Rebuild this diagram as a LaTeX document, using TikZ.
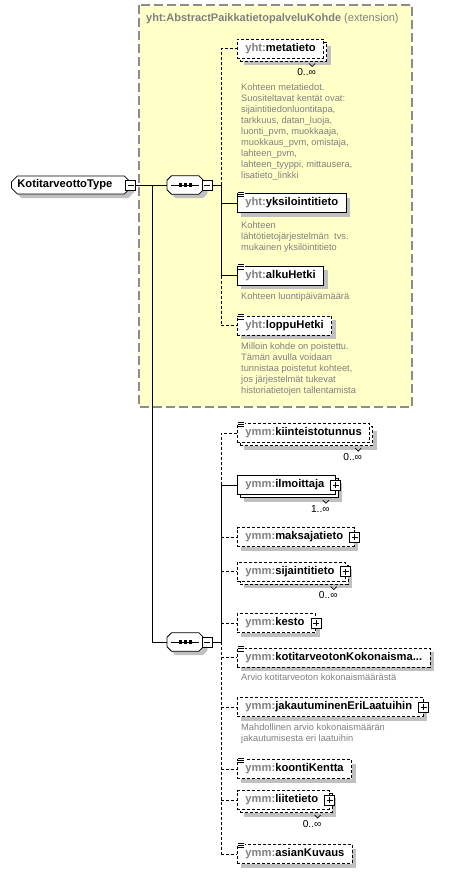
\documentclass[tikz,border=0pt]{standalone}
\usepackage{fontspec}
\setmainfont{Liberation Sans}
\usetikzlibrary{shapes.misc, shadows, calc}

\definecolor{extyellow}{HTML}{FFFFC8}
\definecolor{extborder}{HTML}{8C8C8C}
\definecolor{shadowgray}{HTML}{C0C0C0}
\definecolor{txtgray}{HTML}{808080}

\newcommand{\elfont}{\fontsize{11.2}{13}\selectfont\bfseries}
\newcommand{\smallfont}{\fontsize{9.3}{11}\selectfont}
\newcommand{\el}[2]{\textcolor{txtgray}{#1:}#2}
% little "documented" mark in the top left corner of an element
\newcommand{\docmark}[1]{%
  \fill[white] ($(#1.north west)+(0.6,-1.8)$) rectangle ($(#1.north west)+(7.5,4.6)$);
  \draw[line width=0.8pt] ($(#1.north west)+(1,-1)$) -- +(6,0)
    ($(#1.north west)+(1,1.2)$) -- +(6,0)
    ($(#1.north west)+(1,3.4)$) -- +(6,0);}
% small notch above a cardinality
\newcommand{\cardmark}[1]{%
  \draw[line width=0.7pt] ($(#1.north east)+(-7,-5)$) -- ++(3,3) -- ++(3,-3);}
% octagon of a sequence compositor
\newcommand{\octpath}[1]{($(#1.north west)+(0,4.5)$) -- ($(#1.north west)+(4.5,0)$)
  -- ($(#1.north east)+(-4.5,0)$) -- ($(#1.north east)+(0,4.5)$)
  -- ($(#1.south east)+(0,-4.5)$) -- ($(#1.south east)+(-4.5,0)$)
  -- ($(#1.south west)+(4.5,0)$) -- ($(#1.south west)+(0,-4.5)$) -- cycle}
\newcommand{\seqshape}[1]{%
  \fill[shadowgray, transform canvas={shift={(4pt,-4pt)}}] \octpath{#1};
  \filldraw[fill=white, line width=0.8pt] \octpath{#1};
  \draw[line width=0.8pt] ($(#1.west)+(4,0)$) -- ($(#1.east)+(-4,0)$);
  \foreach \dx in {-5,0,5}
    \fill ($(#1.center)+(\dx-1.6,-1.6)$) rectangle ++(3.2,3.2);}

\begin{document}
\begin{tikzpicture}[x=1pt, y=-1pt,
  conn/.style={line width=0.8pt},
  optconn/.style={conn, dash pattern=on 3pt off 2pt},
  elem/.style={draw, fill=white, line width=0.8pt, minimum height=19pt,
    inner xsep=8pt, inner ysep=0pt, anchor=west, font=\elfont},
  opt/.style={dash pattern=on 3pt off 2pt},
  one/.style={drop shadow={shadow xshift=4pt, shadow yshift=-4pt, fill=shadowgray, opacity=1}},
  many/.style={drop shadow={shadow xshift=7pt, shadow yshift=-7pt, fill=shadowgray, opacity=1},
    general shadow={draw, fill=white, line width=0.8pt, shadow xshift=3pt, shadow yshift=-3pt, #1}},
  many/.default=solid,
  desc/.style={font=\smallfont, text=txtgray, align=left, inner sep=0pt, anchor=north west},
  card/.style={font=\fontsize{10.2}{12}\selectfont, inner sep=0pt, anchor=east},
  xbox/.style={draw, fill=white, line width=0.8pt, minimum size=10pt, inner sep=0pt},
  minusbox/.style={xbox, path picture={
    \draw[line width=0.8pt] ([xshift=2pt]path picture bounding box.west) -- ([xshift=-2pt]path picture bounding box.east);}},
  plusbox/.style={xbox, path picture={
    \draw[line width=0.8pt] ([xshift=2pt]path picture bounding box.west) -- ([xshift=-2pt]path picture bounding box.east)
      ([yshift=-2pt]path picture bounding box.north) -- ([yshift=2pt]path picture bounding box.south);}},
  typebox/.style={chamfered rectangle, chamfered rectangle xsep=3pt, chamfered rectangle ysep=3pt,
    draw, fill=white, line width=0.8pt, minimum height=18pt, inner xsep=3pt, inner ysep=0pt,
    anchor=west, font=\elfont, one},
  seqbox/.style={minimum width=36pt, minimum height=18pt, inner sep=0pt, anchor=west}
]
\useasboundingbox (0,0) rectangle (466,873);

% extension area
\filldraw[fill=extyellow, draw=extborder, line width=1.2pt, dash pattern=on 9pt off 4pt]
  (139,5) rectangle (412,407);
\node[anchor=west, inner sep=0pt, text=txtgray, font=\fontsize{11}{13}\selectfont] (title) at (146,19)
  {\textbf{yht:AbstractPaikkatietopalveluKohde} (extension)};

% the type and its sequences
\node[typebox] (type) at (11,185) {KotitarveottoType\hspace*{12pt}};
\node[minusbox] (type-m) at (type.east) {};
\node[seqbox] (seq1) at (167,185) {};
\seqshape{seq1}
\node[minusbox] (seq1-m) at ([xshift=4pt]seq1.east) {};
\node[seqbox] (seq2) at (167,642) {};
\seqshape{seq2}
\node[minusbox] (seq2-m) at ([xshift=4pt]seq2.east) {};
\coordinate (trunk) at (152,185);
\coordinate (bus1) at (221,185);
\coordinate (bus2) at (221,642);

% inherited elements
\node[elem, opt, many=opt] (meta) at (237,48.5) {\el{yht}{metatieto}};
\node[card] (meta-c) at ($(meta.south east)+(-8,14)$) {0..∞};
\cardmark{meta-c}
\node[desc] (meta-d) at (241,84) {Kohteen metatiedot.\\Suositeltavat kentät ovat:\\sijaintitiedonluontitapa,\\tarkkuus, datan\_luoja,\\luonti\_pvm, muokkaaja,\\muokkaus\_pvm, omistaja,\\lahteen\_pvm,\\lahteen\_tyyppi, mittausera,\\lisatieto\_linkki};

\node[elem, one] (yks) at (237,203) {\el{yht}{yksilointitieto}};
\docmark{yks}
\node[desc] (yks-d) at (241,222) {Kohteen\\lähtötietojärjestelmän~ tvs.\\mukainen yksilöintitieto};

\node[elem, one] (alku) at (237,275.5) {\el{yht}{alkuHetki}};
\docmark{alku}
\node[desc] (alku-d) at (241,292.5) {Kohteen luontipäivämäärä};

\node[elem, opt, one] (loppu) at (237,325.5) {\el{yht}{loppuHetki}};
\docmark{loppu}
\node[desc] (loppu-d) at (241,343) {Milloin kohde on poistettu.\\Tämän avulla voidaan\\tunnistaa poistetut kohteet,\\jos järjestelmät tukevat\\historiatietojen tallentamista};

% own elements
\node[elem, opt, many=opt] (kiint) at (237,433) {\el{ymm}{kiinteistotunnus}};
\docmark{kiint}
\node[card] (kiint-c) at ($(kiint.south east)+(-8,14)$) {0..∞};
\cardmark{kiint-c}

\node[elem, many] (ilm) at (237,485) {\el{ymm}{ilmoittaja}\hspace*{3pt}};
\node[plusbox] (ilm-p) at (ilm.east) {};
\node[card] (ilm-c) at ($(ilm.south east)+(-6,14)$) {1..∞};
\cardmark{ilm-c}

\node[elem, opt, one] (maks) at (237,537) {\el{ymm}{maksajatieto}\hspace*{3pt}};
\node[plusbox] (maks-p) at (maks.east) {};

\node[elem, opt, many=opt] (sij) at (237,571.5) {\el{ymm}{sijaintitieto}\hspace*{3pt}};
\node[plusbox] (sij-p) at (sij.east) {};
\node[card] (sij-c) at ($(sij.south east)+(-8,14)$) {0..∞};
\cardmark{sij-c}

\node[elem, opt, one] (kesto) at (237,623) {\el{ymm}{kesto}\hspace*{3pt}};
\node[plusbox] (kesto-p) at (kesto.east) {};

\node[elem, opt, one] (kotit) at (237,657.5) {\el{ymm}{kotitarveotonKokonaisma...}};
\docmark{kotit}
\node[desc] (kotit-d) at (241,674) {Arvio kotitarveoton kokonaismäärästä};

\node[elem, opt, one] (jak) at (237,707) {\el{ymm}{jakautuminenEriLaatuihin}\hspace*{3pt}};
\node[plusbox] (jak-p) at (jak.east) {};
\node[desc] (jak-d) at (241,724) {Mahdollinen arvio kokonaismäärän\\jakautumisesta eri laatuihin};

\node[elem, opt, one] (koont) at (237,769) {\el{ymm}{koontiKentta}};
\docmark{koont}

\node[elem, opt, many=opt] (liite) at (237,800) {\el{ymm}{liitetieto}\hspace*{3pt}};
\node[plusbox] (liite-p) at (liite.east) {};
\node[card] (liite-c) at ($(liite.south east)+(-8,14)$) {0..∞};
\cardmark{liite-c}

\node[elem, opt, one] (asian) at (237,854) {\el{ymm}{asianKuvaus}};
\docmark{asian}

% connectors of the type
\draw[conn] (type-m.east) -- (seq1.west);
\draw[conn] (trunk) |- (seq2.west);
\draw[conn] (seq1-m.east) -- (bus1);
\draw[conn] (seq2-m.east) -- (bus2);

% first sequence
\draw[optconn] (bus1) -- (bus1 |- meta.west) -- (meta.west);
\draw[conn] (bus1) -- (bus1 |- alku.west) -- (alku.west);
\draw[conn] (bus1 |- yks.west) -- (yks.west);
\draw[optconn] (bus1 |- alku.west) -- (bus1 |- loppu.west) -- (loppu.west);

% second sequence
\draw[optconn] (bus2 |- ilm.west) -- (bus2 |- kiint.west) -- (kiint.west);
\draw[conn] (bus2) -- (bus2 |- ilm.west) -- (ilm.west);
\draw[optconn] (bus2) -- (bus2 |- asian.west);
\foreach \n in {maks, sij, kesto, kotit, jak, koont, liite, asian}
  \draw[optconn] (bus2 |- \n.west) -- (\n.west);
\end{tikzpicture}
\end{document}
